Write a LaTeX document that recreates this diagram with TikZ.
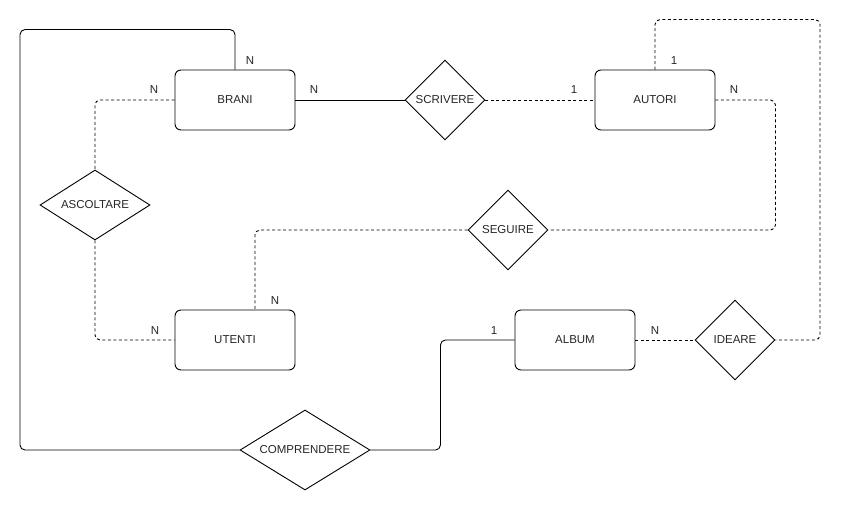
\documentclass[tikz,border=0pt]{standalone}
\usepackage{fontspec}
\setmainfont{Liberation Sans}
\usetikzlibrary{shapes.geometric}
\tikzset{
every node/.style={font=\fontsize{11.5}{13}\selectfont, text=black!85},
entity/.style={rectangle, draw, rounded corners=6pt, minimum width=120pt, minimum height=60pt, line width=0.9pt},
relation/.style={diamond, draw, inner sep=0pt, minimum width=80pt, minimum height=80pt, line width=0.9pt},
mult/.style={inner sep=0pt}
}

\begin{document}
\begin{tikzpicture}[x=1pt, y=-1pt, line width=0.9pt,
  solidlink/.style={rounded corners=5pt},
  dashlink/.style={dash pattern=on 3pt off 2.5pt, rounded corners=5pt}]
\useasboundingbox (0,0) rectangle (842,511);

\node[entity] (brani) at (235,100) {BRANI};
\node[entity] (autori) at (655,100) {AUTORI};
\node[entity] (utenti) at (235,340) {UTENTI};
\node[entity] (album) at (575,340) {ALBUM};

\node[relation] (scrivere) at (445,100) {SCRIVERE};
\node[relation, aspect=1.57, minimum width=110pt, minimum height=70pt] (ascoltare) at (95,205) {ASCOLTARE};
\node[relation] (seguire) at (508,230) {SEGUIRE};
\node[relation] (ideare) at (735,340) {IDEARE};
\node[relation, aspect=1.6, minimum width=130pt, minimum height=80pt] (comprendere) at (305,450) {COMPRENDERE};

\draw[solidlink] (brani.east) -- (scrivere.west);
\draw[dashlink] (scrivere.east) -- (autori.west);
\draw[dashlink] (brani.west) -| (ascoltare.north);
\draw[dashlink] (ascoltare.south) |- (utenti.west);
\draw[dashlink] (autori.east) -- ++(60,0) |- (seguire.east);
\draw[dashlink] (seguire.west) -| ([xshift=20pt]utenti.north);
\draw[dashlink] (autori.north) |- ++(165,-50) |- (ideare.east);
\draw[dashlink] (album.east) -- (ideare.west);
\draw[solidlink] (brani.north) |- ++(-215,-40) |- (comprendere.west);
\draw[solidlink] (comprendere.east) -- ++(70,0) |- (album.west);

\node[mult] (m1) at (314,90) {N};
\node[mult] (m2) at (154,90) {N};
\node[mult] (m3) at (250,61) {N};
\node[mult] (m4) at (574,90) {1};
\node[mult] (m5) at (674,61) {1};
\node[mult] (m6) at (734,90) {N};
\node[mult] (m7) at (275,301) {N};
\node[mult] (m8) at (155,331) {N};
\node[mult] (m9) at (494,331) {1};
\node[mult] (m10) at (655,331) {N};
\end{tikzpicture}
\end{document}
